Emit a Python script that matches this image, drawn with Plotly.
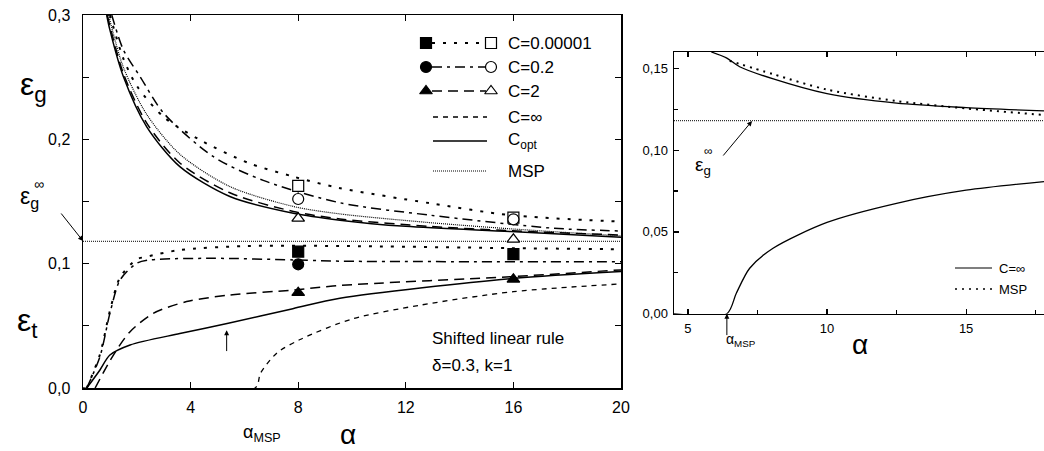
import plotly.graph_objects as go

# ================= LEFT PANEL DATA (alpha, error) =================
# generalization error (upper branch)
a_g_c1e5 = [1.0, 1.5, 2.0, 3.0, 4.35, 6.15, 7.82, 9.5, 12.9, 15.9, 20.0]
eg_c1e5 = [0.300, 0.265, 0.243, 0.218, 0.1995, 0.181, 0.170, 0.161, 0.1486, 0.139, 0.1338]
a_g_c02 = [1.07, 1.5, 2.12, 3.0, 4.85, 6.7, 9.55, 12.9, 17.5, 20.0]
eg_c02 = [0.300, 0.272, 0.2505, 0.221, 0.186, 0.167, 0.149, 0.139, 0.1285, 0.1263]
a_g_c2 = [0.9, 1.5, 2.37, 3.6, 5.46, 7.82, 9.55, 12.9, 15.9, 20.0]
eg_c2 = [0.300, 0.253, 0.213, 0.181, 0.157, 0.142, 0.136, 0.130, 0.1265, 0.123]
a_g_copt = [0.88, 1.0, 1.5, 2.37, 3.6, 5.46, 7.82, 9.55, 12.0, 15.9, 20.0]
eg_copt = [0.300, 0.288, 0.2505, 0.210, 0.178, 0.154, 0.1405, 0.135, 0.130, 0.1258, 0.1212]
a_g_msp = [0.95, 1.5, 2.37, 3.6, 5.46, 7.82, 9.55, 12.9, 15.9, 20.0]
eg_msp = [0.300, 0.258, 0.220, 0.188, 0.162, 0.146, 0.140, 0.133, 0.128, 0.1223]

# training error (lower branch)
a_t_c1e5 = [0.14, 0.63, 1.0, 1.38, 2.0, 2.37, 3.6, 6.08, 9.55, 15.9, 20.0]
et_c1e5 = [0.0, 0.027, 0.062, 0.089, 0.1035, 0.1056, 0.111, 0.1142, 0.1142, 0.1125, 0.1116]
a_t_c02 = [0.14, 0.63, 1.0, 1.38, 2.0, 2.49, 4.85, 7.82, 9.55, 20.0]
et_c02 = [0.0, 0.0252, 0.060, 0.0869, 0.1003, 0.103, 0.1043, 0.103, 0.102, 0.1016]
a_t_c2 = [0.45, 1.13, 1.75, 2.61, 3.85, 5.46, 7.82, 9.55, 15.9, 20.0]
et_c2 = [0.0, 0.0265, 0.0453, 0.060, 0.0695, 0.0748, 0.0788, 0.0825, 0.0895, 0.095]
a_t_copt = [0.14, 0.63, 1.0, 1.75, 3.6, 5.4, 7.8, 9.55, 15.94, 20.0]
et_copt = [0.0, 0.0145, 0.0265, 0.0346, 0.0438, 0.052, 0.0638, 0.0722, 0.088, 0.0936]
a_t_cinf = [0.0, 6.4, 6.6, 7.2, 8.07, 10.0, 12.5, 16.0, 20.0]
et_cinf = [0.0, 0.0, 0.012, 0.028, 0.039, 0.0555, 0.0665, 0.0775, 0.0837]

eg_inf = 0.118          # asymptotic generalization error
alpha_msp = 6.4

# simulation points
a_sim = [8, 16]
open_c1e5 = [0.1625, 0.137]
open_c02 = [0.152, 0.1357]
open_c2 = [0.1365, 0.1196]
fill_c1e5 = [0.1097, 0.1076]
a_sim_c02f = [8]
fill_c02 = [0.0995]
fill_c2 = [0.0767, 0.0874]

# ================= RIGHT PANEL DATA =================
r_a_g_cinf = [5.84, 6.4, 6.86, 8.07, 10.0, 12.5, 15.0, 17.8]
r_eg_cinf = [0.160, 0.1563, 0.151, 0.1435, 0.1345, 0.1287, 0.126, 0.124]
r_a_g_msp = [6.5, 8.07, 10.0, 12.5, 15.0, 17.8]
r_eg_msp = [0.1546, 0.1464, 0.137, 0.130, 0.1255, 0.1215]
r_a_t_cinf = [4.5, 6.4, 6.74, 7.22, 8.06, 10.0, 12.5, 15.0, 17.8]
r_et_cinf = [0.0, 0.0, 0.0125, 0.0278, 0.040, 0.0558, 0.0675, 0.0755, 0.0808]

FONT = "Arial, 'Liberation Sans', sans-serif"
FW, FH = 1044, 451
BLACK = "black"


def dx(p):  # page pixel x -> paper fraction
    return p / FW


def dy(p):  # page pixel y -> paper fraction
    return (FH - p) / FH


DOT_SPARSE = "3px,8px"
DASHDOT = "10px,5px,3px,5px"
DASH_LONG = "10px,6px"
DASH_SHORT = "5px,5px"
DOT_FINE = "1px,1px"

fig = go.Figure()


def line(x, y, dash, width=1.5, xa="x", ya="y", shape="spline"):
    fig.add_trace(go.Scatter(x=x, y=y, mode="lines", xaxis=xa, yaxis=ya,
                             line=dict(color=BLACK, width=width, dash=dash, shape=shape, smoothing=0.8),
                             hoverinfo="skip", showlegend=False))


def marks(x, y, symbol, hollow=False, xa="x", ya="y", size=11):
    fig.add_trace(go.Scatter(x=x, y=y, mode="markers", xaxis=xa, yaxis=ya,
                             marker=dict(symbol=symbol, size=size, color="white" if hollow else BLACK,
                                         line=dict(color=BLACK, width=1.2)),
                             hoverinfo="skip", showlegend=False))


# ---- left panel curves ----
line([0, 20], [eg_inf, eg_inf], DOT_FINE, width=1, shape="linear")
line(a_g_c1e5, eg_c1e5, DOT_SPARSE, width=2)
line(a_g_c02, eg_c02, DASHDOT)
line(a_g_c2, eg_c2, DASH_LONG)
line(a_g_copt, eg_copt, "solid")
line(a_g_msp, eg_msp, DOT_FINE, width=1.2)
line(a_t_c1e5, et_c1e5, DOT_SPARSE, width=2)
line(a_t_c02, et_c02, DASHDOT)
line(a_t_c2, et_c2, DASH_LONG)
line(a_t_copt, et_copt, "solid")
line(a_t_cinf, et_cinf, DASH_SHORT, width=1.3)

marks(a_sim, open_c1e5, "square", hollow=True)
marks(a_sim, open_c02, "circle", hollow=True)
marks(a_sim, open_c2, "triangle-up", hollow=True)
marks(a_sim, fill_c1e5, "square")
marks(a_sim_c02f, fill_c02, "circle")
marks(a_sim, fill_c2, "triangle-up")

# ---- right panel curves ----
line([4.5, 17.8], [eg_inf, eg_inf], DOT_FINE, width=1, xa="x2", ya="y2", shape="linear")
line(r_a_g_cinf, r_eg_cinf, "solid", width=1.3, xa="x2", ya="y2")
line(r_a_g_msp, r_eg_msp, "2px,5px", width=2, xa="x2", ya="y2")
line(r_a_t_cinf, r_et_cinf, "solid", width=1.3, xa="x2", ya="y2")

# ---- custom legend (overlay axis in page pixel units) ----
leg_rows = [
    ("C=0.00001", DOT_SPARSE, 2, "square", 43),
    ("C=0.2", DASHDOT, 1.5, "circle", 67),
    ("C=2", DASH_LONG, 1.5, "triangle-up", 91),
    ("C=∞", DASH_SHORT, 1.3, None, 117),
    ("C<sub>opt</sub>", "solid", 1.5, None, 141),
    ("MSP", DOT_FINE, 1.2, None, 171),
]
annotations = []
for label, dash, wd, sym, yy in leg_rows:
    x0, x1 = (432, 486) if sym else (433, 487)
    line([x0, x1], [yy, yy], dash, width=wd, xa="x3", ya="y3", shape="linear")
    if sym:
        marks([426], [yy], sym, xa="x3", ya="y3")
        marks([491], [yy], sym, hollow=True, xa="x3", ya="y3")
    annotations.append(dict(x=506, y=yy, xref="x3", yref="y3", text=label, showarrow=False,
                            xanchor="left", yanchor="middle", font=dict(size=17, family=FONT, color=BLACK)))

# right legend
line([955, 992], [268, 268], "solid", width=1.2, xa="x3", ya="y3", shape="linear")
line([955, 992], [289, 289], "2px,5px", width=1.5, xa="x3", ya="y3", shape="linear")
annotations.append(dict(x=997, y=268, xref="x3", yref="y3", text="C=∞", showarrow=False,
                        xanchor="left", yanchor="middle", font=dict(size=13, family=FONT, color=BLACK)))
annotations.append(dict(x=997, y=289, xref="x3", yref="y3", text="MSP", showarrow=False,
                        xanchor="left", yanchor="middle", font=dict(size=13, family=FONT, color=BLACK)))


def txt(x, y, s, size, anchor="center"):
    annotations.append(dict(x=x, y=y, xref="x3", yref="y3", text=s, showarrow=False,
                            xanchor=anchor, yanchor="middle", font=dict(size=size, family=FONT, color=BLACK)))


# left panel labels
txt(33, 86, "ε<sub>g</sub>", 32)
txt(27, 322, "ε<sub>t</sub>", 32)
txt(29, 197, "ε<sub>g</sub>", 23)
txt(39, 184, "∞", 14)
txt(430, 338, "Shifted linear rule", 17, "left")
txt(430, 365, "δ=0.3, k=1", 17, "left")
txt(262, 433, "α<sub>MSP</sub>", 18)
txt(348, 434, "α", 28)
# right panel labels
txt(703, 166, "ε<sub>g</sub>", 19)
txt(708, 151, "∞", 12)
txt(741, 340, "α<sub>MSP</sub>", 14)
txt(860, 344, "α", 28)

# arrows
annotations.append(dict(x=83, y=241, ax=60, ay=212, xref="x3", yref="y3", axref="x3", ayref="y3",
                        text="", showarrow=True, arrowhead=2, arrowsize=1, arrowwidth=1, arrowcolor=BLACK))
annotations.append(dict(x=5.34, y=0.0465, ax=5.34, ay=0.0285, xref="x", yref="y", axref="x", ayref="y",
                        text="", showarrow=True, arrowhead=2, arrowsize=1, arrowwidth=1, arrowcolor=BLACK))
annotations.append(dict(x=752, y=121, ax=722, ay=157, xref="x3", yref="y3", axref="x3", ayref="y3",
                        text="", showarrow=True, arrowhead=2, arrowsize=1, arrowwidth=1, arrowcolor=BLACK))
annotations.append(dict(x=alpha_msp, y=0.0, ax=alpha_msp, ay=-0.014, xref="x2", yref="y2", axref="x2", ayref="y2",
                        text="", showarrow=True, arrowhead=2, arrowsize=1, arrowwidth=1, arrowcolor=BLACK))

ax_common = dict(showgrid=False, zeroline=False, showline=True, linecolor=BLACK, linewidth=1.5,
                 ticks="inside", tickcolor=BLACK, tickwidth=1.2, automargin=False,
                 ticklabeloverflow="allow")

fig.update_layout(
    width=FW, height=FH, margin=dict(l=0, r=0, t=0, b=0, autoexpand=False),
    paper_bgcolor="white", plot_bgcolor="rgba(0,0,0,0)", showlegend=False,
    font=dict(family=FONT, color=BLACK),
    xaxis=dict(domain=[dx(83), dx(621)], range=[0, 20], anchor="y", mirror="ticks",
               tickvals=[0, 4, 8, 12, 16, 20], ticklen=6, ticklabelstandoff=4,
               tickfont=dict(size=16), **ax_common),
    yaxis=dict(domain=[dy(388), dy(15)], range=[0, 0.3], anchor="x", mirror="ticks",
               tickvals=[0, 0.1, 0.2, 0.3], ticktext=["0,0", "0,1", "0,2", "0,3"], ticklen=6,
               ticklabelstandoff=8, tickfont=dict(size=16),
               minor=dict(tickvals=[0.05, 0.15, 0.25], ticks="inside", ticklen=6, tickcolor=BLACK),
               **ax_common),
    xaxis2=dict(domain=[dx(674), 1.0], range=[4.5, 17.8], anchor="y2", mirror="ticks",
                tickvals=[5, 10, 15], ticklen=5, tickfont=dict(size=13), ticklabelstandoff=2,
                minor=dict(tickvals=[7.5, 12.5, 17.5], ticks="inside", ticklen=4, tickcolor=BLACK),
                **ax_common),
    yaxis2=dict(domain=[dy(313.7), dy(52)], range=[0, 0.16], anchor="x2", mirror=False,
                tickvals=[0, 0.05, 0.1, 0.15], ticktext=["0,00", "0,05", "0,10", "0,15"], ticklen=5,
                tickfont=dict(size=13), ticklabelstandoff=2,
                minor=dict(tickvals=[0.025, 0.075, 0.125], ticks="inside", ticklen=4, tickcolor=BLACK),
                **ax_common),
    xaxis3=dict(domain=[0, 1], range=[0, FW], visible=False, anchor="y3", fixedrange=True,
                automargin=False),
    yaxis3=dict(domain=[0, 1], range=[FH, 0], visible=False, anchor="x3", fixedrange=True,
                automargin=False),
    annotations=annotations,
)

fig.write_html("out.html", config={"displayModeBar": False, "staticPlot": True},
               post_script="document.body.style.margin='0px';document.body.style.overflow='hidden';")
